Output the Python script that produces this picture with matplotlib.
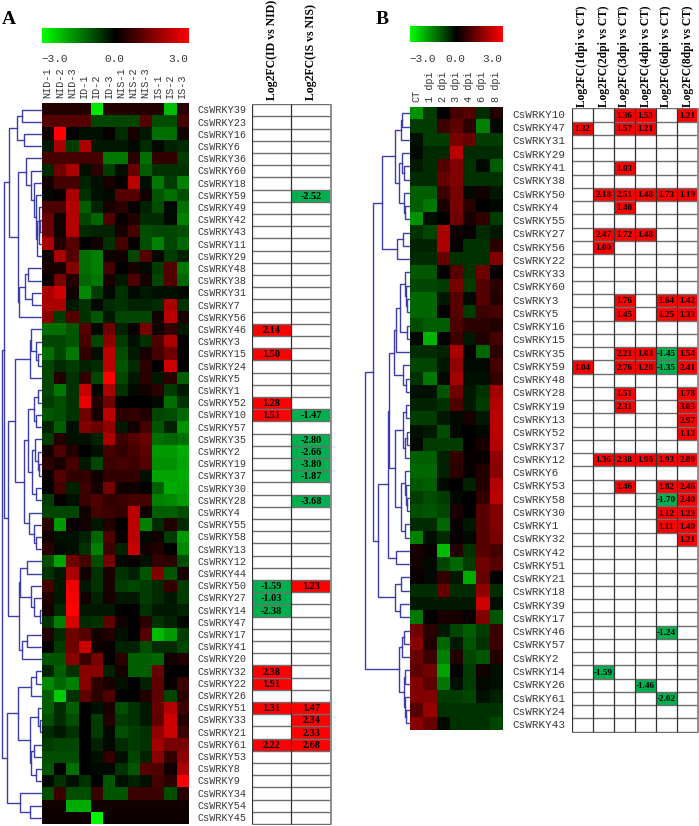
import matplotlib
matplotlib.use('Agg')
import matplotlib.pyplot as plt
import numpy as np
from matplotlib.colors import LinearSegmentedColormap
from matplotlib.patches import Rectangle

W, H = 699, 826

# ============ panel A data ============
genes_a = [39, 23, 16, 6, 36, 60, 18, 59, 49, 42, 43, 11, 29, 48, 38, 31, 7, 56, 46, 3,
           15, 24, 5, 1, 52, 10, 57, 35, 2, 19, 37, 30, 28, 4, 55, 58, 13, 12, 44, 50,
           27, 14, 47, 17, 41, 20, 32, 22, 26, 51, 33, 21, 61, 53, 8, 9, 34, 54, 45]
samples_a = ['NID-1', 'NID-2', 'NID-3', 'ID-1', 'ID-2', 'ID-3',
             'NIS-1', 'NIS-2', 'NIS-3', 'IS-1', 'IS-2', 'IS-3']
heat_a = [
    [.4, .4, .4, .4, -2.7, .4, .4, .4, .4, .4, -2.2, .5],
    [1, 1, 1, 1, -.8, -.8, -.8, -.8, 1, -.9, -.9, .8],
    [.2, 3, 0, -.2, -.2, .1, -.5, .3, -.3, -1.3, -1.3, .2],
    [-.3, 2, -.7, 2, -.3, -.3, -.3, -.1, -.5, -.1, -.4, -.5],
    [.8, .8, .8, .8, .8, -1.4, -1.4, .5, -1.3, .6, .6, -.7],
    [-.5, 1.3, 2, -.2, .5, -.7, -.2, 1.2, -1.1, -.6, -.6, -.6],
    [.2, .8, .8, -.4, -.2, .3, .1, 2.2, -.2, -1.4, -.7, -1.5],
    [-.1, .1, 2, -.6, -.2, -.1, 1, 1, .2, -1, -1.3, -.9],
    [.9, .9, 2.1, -1.1, -.4, .3, .5, .1, -.4, -.9, -.1, -1.3],
    [1.2, .2, 2.1, -.8, -1.2, .9, .1, .4, -.5, -.5, -.1, -1.5],
    [1.2, .2, 2.1, -.5, -.4, -.4, .3, .8, -.9, -.8, -.8, -.9],
    [2, .4, 1, 0, .2, -.6, .8, .1, -.9, -1.5, -.8, -1.2],
    [.2, 2, 1, -1.3, -1.5, .2, .2, -.8, 1, -.1, -.7, -.4],
    [.3, .3, 1.5, -1.3, -1.5, .8, 0, .3, -.1, -.7, 1, -1.4],
    [.1, 1.4, .4, -1.2, -1.4, .3, -.3, .9, .3, -.8, 1, -1.2],
    [2, 2.4, .2, -1.6, -.7, -.1, -.6, -.1, -.3, -.2, -.2, -.1],
    [2, 2, -.3, -.6, -.1, -.5, -.6, -.4, -.4, -.5, 2, -.6],
    [1.6, -.7, 1, -.6, -1, -.3, -.8, -.8, -.8, .2, 2.2, .3],
    [-1.3, -1.3, -1, 1, -.1, 1.3, -.4, .1, 1.4, .2, .6, -.3],
    [-.8, -.8, -1, .8, -.8, 1.7, -.7, -.2, -.6, .9, 2, 0],
    [-1.3, -.8, -1.4, .6, -.2, 2.2, -.9, -.3, .3, .8, 1.3, 0],
    [-.8, -.5, -.7, -.4, -.5, 2.2, -1, -.5, .5, 0, 2.4, 0],
    [-.8, .4, -.6, .6, -.8, 3, -.8, -.3, .5, -.3, .5, -1.1],
    [-.8, -1.4, -.6, 2.3, -.1, 2, -.6, -.1, .2, .5, -.7, -.3],
    [-.7, -.9, -.6, 2.7, .4, 1.3, 0, 0, 0, -.1, -1.3, -.6],
    [-1, -.9, -.6, 1.3, .3, 2.2, .5, .6, .4, -.8, -.9, -1.2],
    [-.4, -1.1, -.2, 1.5, 1.2, 1.7, -.3, .2, .8, -1, -.4, -1.7],
    [-.7, .4, -.2, -.2, -.4, 2, .7, 1, 1.2, -1.3, -1.2, -1.3],
    [.2, .9, .4, 0, -.2, .8, .6, .8, 1.1, -1.8, -1.8, -2],
    [.5, .3, .8, -.3, -.8, .7, .8, .7, 1, -1.7, -1.7, -1.9],
    [.1, 1, .6, .6, .2, .6, .6, .6, -.2, -1.9, -1.9, -2],
    [0, .8, -.4, .7, .3, 1.4, .2, .2, 0, -1.1, -2, -1.9],
    [-.7, .1, -.2, .7, .9, .6, .7, .8, .8, -1.5, -1.6, -1.8],
    [-.8, -.8, -.8, .2, .8, .7, .6, 2.2, .2, -1.1, -1.1, -.9],
    [.5, -1.8, .1, .2, -.3, .4, 0, 2.2, -1.5, -.5, .4, -.5],
    [.2, -.2, -.2, -.4, -1.2, .9, .1, 2.2, -.1, .2, -.7, -1.8],
    [.5, -.1, -.2, -.6, -1.5, .7, -.4, 2.3, .2, .4, 0, -1.6],
    [-.9, -1.9, 1.3, .8, -.9, 1.4, -.1, .1, -.2, .6, .5, -.9],
    [-.6, -.3, 2, .2, -.6, .3, -.6, -.4, -1, 1.5, -1, .3],
    [.8, -.3, 2.8, -.3, -.6, .3, -.7, -.8, -.7, -.5, .6, -.7],
    [.4, -.3, 2.9, .2, -.4, .3, -.3, -.3, -.7, -.5, -.3, -.7],
    [.3, -.5, 3, -.3, -.3, -.3, 0, 0, -.6, -.3, -.3, -.4],
    [-.6, -1.5, 2.5, -.5, -.6, 1.1, .2, 0, .5, -.6, -.4, -.1],
    [.4, -.5, 1.3, 1, .2, .4, -.2, 0, 1, -2.2, -1.8, -.7],
    [0, -.7, 1.3, 2.4, .2, .1, -.4, -.4, -.9, -.5, -.5, -.8],
    [-1, -1, 1.6, .7, 1.4, 0, .5, -1.1, -1.1, -1.2, .2, .4],
    [-.4, -1.1, -.6, 1.6, 1.6, -.4, .3, -1.1, -1.1, 1.2, 0, 0],
    [-1.6, -1.2, -1.5, 1.6, .5, .3, -.2, 0, -.4, 1.1, .1, .7],
    [-1.1, -2.4, -.6, 1.1, .5, .9, 0, 0, .4, 1.1, -.8, .5],
    [-1.1, -.5, -1.1, 0, -.2, .3, -.9, -.6, -.3, 1.2, 2.1, .7],
    [-.9, -.5, -.9, 0, -.7, .4, -.7, -.6, -.3, 1.1, 2.4, .4],
    [-.5, -.3, -.6, 0, -.7, -.1, -.9, -.7, -.6, 1.7, 2.4, .7],
    [-.7, -.8, -.8, 0, -.4, -.1, -.5, -.7, -.6, 1.9, 1.4, 1.4],
    [-.9, -.9, -.9, 0, -.2, .6, -.2, -.8, -.4, 1.6, .6, 1.7],
    [-1, 0, -1.3, 0, -.1, -.1, -.6, -1, 1, .9, .2, 2],
    [-.1, -.6, -.2, -.6, 0, -1, -.2, -.4, -.2, .8, .5, 2.9],
    [-.9, .7, -.9, -.9, .7, -1, -1, .7, .7, .7, -.9, .5],
    [.2, .2, -2, -2, .2, .2, .2, .2, .2, .2, .2, .2],
    [.15, .15, .15, .15, -2.9, .15, .15, .15, .15, .15, .15, .15],
]
fc_headers_a = ['Log2FC(ID vs NID)', 'Log2FC(IS vs NIS)']
fc_id = {46: 2.14, 15: 1.50, 52: 1.28, 10: 1.51, 50: -1.59, 27: -1.03, 14: -2.38,
         32: 2.38, 22: 1.91, 51: 1.31, 61: 2.22}
fc_is = {59: -2.52, 10: -1.47, 35: -2.80, 2: -2.66, 19: -3.80, 37: -1.87, 28: -3.68,
         50: 1.23, 51: 1.47, 33: 2.34, 21: 2.33, 61: 2.68}

# tree: (merge position, upper child, lower child); a leaf is a row number
ab = (17, (22, 0, 1), (24, 2, 3))
cd = (18, (26, 4, (31, 5, (34, 6, (36, 7, (37, (38.5, 8, (39, (40, 9, 10), 11)), 12))))),
      (19, (25, (28, 13, 14), (32, 15, 16)), 17))
g1 = (9.3, ab, cd)
g2a = (29.5, (31, 18, (36, 19, (38, 20, 21))), 22)
g2b = (24, (28, (34, (38, 23, 24), (36, 25, 26)),
            (32, (35, 27, (38, 28, (39, 29, 30))), (36, 31, 32))),
       (29, 33, (34, 34, (36, 35, 36))))
g3 = (19, (19.5, (26.5, 37, 38), (31, 39, (34, 40, (40, 41, 42)))), (22, (27, 43, 44), 45))
tree_a_upper = (4.3, g1, (8.3, (15, g2a, g2b), g3))
l1 = (18, (31, (36, 46, 47), 48),
      (30, (38, 49, (40, 50, 51)), (31, (34, 52, 53), (36, 54, 55))))
tree_a = (1.5, tree_a_upper, (7.3, l1, (19.5, 56, (30, 57, 58))))

# ============ panel B data ============
genes_b = [10, 47, 31, 29, 41, 38, 50, 4, 55, 27, 56, 22, 33, 60, 3, 5, 16, 15, 35, 59,
           48, 28, 19, 13, 52, 37, 12, 6, 53, 58, 30, 1, 32, 42, 51, 21, 18, 39, 17, 46,
           57, 2, 14, 26, 61, 24, 43]
samples_b = ['CT', '1 dpi', '2 dpi', '3 dpi', '4 dpi', '6 dpi', '8 dpi']
heat_b = [
    [-1.7, -.7, 0, .8, 1, -.5, .4],
    [-.7, -.7, .7, 1.1, .5, -1.5, -.1],
    [-.2, -.7, -.7, 1.4, 1.2, -.7, -.7],
    [-.1, -.5, -.5, 2.2, -.5, -.5, -.5],
    [-.3, -.5, 1, 1.5, -.6, -.1, -1.1],
    [-.5, -.5, 1.2, 1.5, -.6, -.6, -.6],
    [-1.1, -1.1, .7, 1.4, -.1, .2, -.3],
    [-1.1, -1.4, .3, 1.4, .5, 0, -.1],
    [-1.7, -.2, 0, 1.3, .3, .6, -.7],
    [-.6, -.8, 2, .2, .1, -.5, -.3],
    [-.4, -.4, 2, 0, -.6, -.6, .5],
    [-.5, -.5, 1.2, -.6, -.6, -.6, 1.5],
    [-1, -1, 0, 1, -.6, 1.3, 0],
    [-.8, -.8, -.7, 1.4, -.7, 1, .5],
    [-1.2, -1.2, -.3, 1, -.1, 1, .4],
    [-1.2, -1.2, 0, 1, -.7, .7, .8],
    [-.9, -1.1, -1.1, .9, .5, .5, .4],
    [-.1, -2.1, 0, .7, -.3, .4, .8],
    [-.5, -.5, -.4, 2, .1, -1.2, .5],
    [-.8, -.8, -.3, 1.7, -.1, -.1, .8],
    [-.6, -1.4, -.1, 1.9, -.2, -.2, .6],
    [-.2, -.2, -1, 1.3, -.3, -.6, 1.9],
    [-.4, -.4, -.6, .9, -.3, -.7, 2.1],
    [-.7, -.7, -.3, -.1, .3, -.3, 2.2],
    [-.2, -.3, -.9, -.1, 0, -.1, 2.2],
    [-.1, -.7, -.7, -.7, 0, .3, 2.1],
    [-1.1, -1.1, -.4, .6, .1, .1, 1.7],
    [-1.2, -1.2, -.4, .5, .1, .4, 1.6],
    [-1, -1.1, -.1, 0, -.4, .4, 2.1],
    [-.7, -.9, -.7, -.1, 0, .6, 2.2],
    [-.9, -1, -.8, .3, 0, 1, 1.5],
    [-.5, -.5, -1.2, .1, -.3, 1, 1.5],
    [-1.5, -.2, -.5, .1, -.1, 1, 1.4],
    [.3, .1, -2.2, .4, -.6, 1, .8],
    [.2, -.1, -.8, -1.2, -.7, 1.3, 1],
    [.1, -.1, .6, -.3, -2, 1.2, 0],
    [-.5, -.5, 1.2, -.5, -.5, 1.7, -.5],
    [-.3, -.3, -.3, -.3, -.3, 2.4, -.2],
    [-1.4, 0, .3, .3, .1, 1.5, -1],
    [1.3, .5, -.3, -.8, -1.1, -.7, .7],
    [1.6, .4, -1.2, -.3, -1, -.6, .7],
    [1.2, .7, -1.5, .4, -.8, -1, .4],
    [1.1, 1.3, -1.9, 0, -.7, .2, -.2],
    [1.5, 1.1, -1.4, -.2, -.7, -.1, -.2],
    [1.5, 1.5, -.7, -.7, -.8, -.2, -.4],
    [1, 1.8, -.6, -.6, -.6, -.6, -.6],
    [1.6, 1.2, -.1, -.6, -.6, -.6, -.8],
]
fc_headers_b = ['Log2FC(1dpi vs CT)', 'Log2FC(2dpi vs CT)', 'Log2FC(3dpi vs CT)',
                'Log2FC(4dpi vs CT)', 'Log2FC(6dpi vs CT)', 'Log2FC(8dpi vs CT)']
fc_1dpi = {47: 1.32, 59: 1.04}
fc_2dpi = {50: 2.18, 27: 2.47, 56: 1.00, 12: 1.36, 14: -1.59}
fc_3dpi = {10: 1.36, 47: 1.57, 41: 1.03, 50: 2.51, 4: 1.48, 27: 1.72, 3: 1.76, 5: 1.45,
           35: 2.21, 59: 2.76, 28: 1.51, 19: 2.31, 12: 2.38, 53: 1.46}
fc_4dpi = {10: 1.53, 47: 1.21, 50: 1.48, 27: 1.48, 35: 1.03, 59: 1.28, 12: 1.96, 26: -1.46}
fc_6dpi = {50: 1.73, 3: 1.64, 5: 1.25, 35: -1.45, 59: -1.35, 12: 1.93, 53: 1.82, 58: -1.70,
           30: 1.12, 1: 1.11, 46: -1.24, 61: -2.02}
fc_8dpi = {10: 1.21, 50: 1.19, 3: 1.42, 5: 1.33, 35: 1.54, 59: 2.41, 28: 1.78, 19: 3.03,
           13: 2.97, 52: 1.13, 12: 2.89, 53: 2.46, 58: 2.40, 30: 1.23, 1: 1.40, 32: 1.21}

p = (395, (401, (402, 0, 1), 2), (399, (402, 3, (404, 4, 5)), (404, 6, (405, 7, 8))))
p = (382, p, (397, (403, 9, 10), 11))
r1 = (395.5, (400, (405, 12, (406.5, 13, (407, 14, 15))), (407, 16, 17)), 18)
r3 = (395, (403, (406, 22, 23), (405, (407, 24, 25), 26)),
      (401, (405, 27, (406, 28, (407, 29, 30))), (405, 31, 32)))
q1 = (389, (394, r1, (403, 19, (406, 20, 21))), r3)
q = (377.5, (387.5, q1, (396, 33, 34)), (395, (401, 35, 36), (400, 37, 38)))
low = (399, (402, (404, 39, 40), 41), (404, (405, 42, 43), (405.5, 44, (406, 45, 46))))
tree_b = (365, (373, p, q), low)

# ============ plotting ============
BLUE = '#3c3caa'
TICK_GREY = '#383838'
MONO = 'Liberation Mono'
SERIF = 'Liberation Serif'
cmap = LinearSegmentedColormap.from_list('gbr', ['#00ff00', '#000000', '#ff0000'])

fig = plt.figure(figsize=(W / 100, H / 100), dpi=100, facecolor='white')


def add_ax(x0, y0, x1, y1):
    # rectangle given in picture pixels, y pointing down
    ax = fig.add_axes([x0 / W, 1 - y1 / H, (x1 - x0) / W, (y1 - y0) / H])
    ax.axis('off')
    return ax


def draw_tree(ax, node):
    if not isinstance(node, tuple):
        return ax.get_xlim()[1], node + 0.5
    x, upper, lower = node
    xa, ya = draw_tree(ax, upper)
    xb, yb = draw_tree(ax, lower)
    ax.plot([xa, x, x, xb], [ya, ya, yb, yb], color=BLUE, lw=1.0, solid_joinstyle='miter')
    return x, (ya + yb) / 2


def panel(letter, letter_x, genes, samples, heat, tree, headers, columns,
          heat_box, bar_y, table_box, label_x, tree_x0, fs_head, fs_cell, fs_label, header_gap,
          tick_x, sample_y):
    hx0, hy0, hx1, hy1 = heat_box
    n_rows = len(genes)
    fig.text(letter_x / W, 1 - 19 / H, letter, family=SERIF, fontweight='bold', fontsize=14,
             ha='left', va='center')

    # colour bar
    ax = add_ax(hx0, bar_y[0], hx1, bar_y[1])
    ax.imshow(np.linspace(-3, 3, 256)[None, :], cmap=cmap, vmin=-3, vmax=3, aspect='auto')
    for txt, x, ha in zip(['\u22123.0', '0.0', '3.0'], tick_x, ['left', 'center', 'right']):
        fig.text(x / W, 1 - 59 / H, txt, family=MONO, fontsize=8, color=TICK_GREY, ha=ha, va='center')

    # heat map
    ax = add_ax(hx0, hy0, hx1, hy1)
    ax.imshow(np.array(heat), cmap=cmap, vmin=-3, vmax=3, aspect='auto', interpolation='nearest')
    cw = (hx1 - hx0) / len(samples)
    for i, s in enumerate(samples):
        fig.text((hx0 + (i + 0.5) * cw) / W, 1 - sample_y / H, s, family=MONO, fontsize=7.4,
                 color=TICK_GREY, rotation=90, ha='center', va='bottom')

    # dendrogram
    ax = add_ax(tree_x0, hy0, hx0, hy1)
    ax.set_xlim(tree_x0, hx0)
    ax.set_ylim(n_rows, 0)
    draw_tree(ax, tree)

    # fold change table
    tx0, ty0, tx1, ty1 = table_box
    ax = add_ax(tx0, ty0, tx1 + 1, ty1 + 1)
    n_cols = len(columns)
    col_w = (tx1 - tx0) / n_cols
    ax.set_xlim(0, (tx1 + 1 - tx0) / col_w)
    ax.set_ylim(n_rows * (ty1 + 1 - ty0) / (ty1 - ty0), 0)
    for c, col in enumerate(columns):
        for r, g in enumerate(genes):
            if g in col:
                v = col[g]
                ax.add_patch(Rectangle((c, r), 1, 1, fc='#ff0000' if v > 0 else '#00b050', ec='none', zorder=1))
                ax.text(c + 0.5, r + 0.55, f'{v:.2f}', family=SERIF, fontweight='bold', fontsize=fs_cell,
                        ha='center', va='center', color='black', zorder=3)
    for r in range(n_rows + 1):
        ax.plot([0, n_cols], [r, r], color='#6e6e6e', lw=1.0, zorder=2, solid_capstyle='butt')
    for c in range(n_cols + 1):
        ax.plot([c, c], [0, n_rows], color='#8c8c8c' if c == n_cols else '#333333',
                lw=1.4 if c == n_cols else 0.9, zorder=2, solid_capstyle='butt')

    # gene labels, one per row
    row_h = (ty1 - ty0) / n_rows
    for r, g in enumerate(genes):
        fig.text(label_x / W, 1 - (ty0 + (r + 0.5) * row_h) / H, f'CsWRKY{g}', family=MONO, fontsize=fs_label,
                 color=TICK_GREY, ha='left', va='center')

    # table headers
    for c, h in enumerate(headers):
        fig.text((tx0 + (c + 0.5) * col_w) / W, 1 - (ty0 - header_gap) / H, h, family=SERIF,
                 fontweight='bold', fontsize=fs_head, rotation=90, ha='center', va='bottom')


panel('A', 2, genes_a, samples_a, heat_a, tree_a, fc_headers_a, [fc_id, fc_is],
      (41.5, 103.5, 188, 824), (28.3, 43.3), (251.7, 104.3, 331, 824), 197.5, 0, 8.5, 7.3, 7.3, 4,
      (41, 114, 188), 98)
panel('B', 376, genes_b, samples_b, heat_b, tree_b, fc_headers_b,
      [fc_1dpi, fc_2dpi, fc_3dpi, fc_4dpi, fc_6dpi, fc_8dpi],
      (409.7, 106.7, 502.3, 730), (26, 42), (572, 108.3, 698, 731.7), 512.5, 360, 8.3, 6.6, 7.9, 1,
      (409, 455, 502), 102)

plt.savefig('out.png', dpi=100)
